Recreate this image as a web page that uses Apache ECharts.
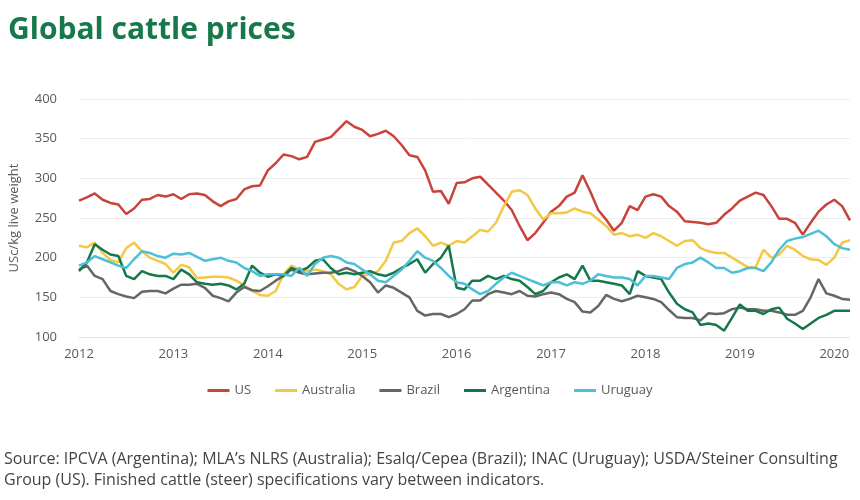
<!DOCTYPE html>
<html>
<head>
<meta charset="utf-8">
<script src="https://cdn.jsdelivr.net/npm/echarts@6/dist/echarts.min.js"></script>
<style>
  html, body { margin: 0; padding: 0; background: #fff; }
  #chart { width: 860px; height: 500px; }
</style>
</head>
<body>
<div id="chart"></div>
<script>
// monthly, Jan 2012 .. Mar 2020
const months = [];
for (let y = 2012; y <= 2020; y++) {
    for (let m = 1; m <= 12; m++) {
        if (y === 2020 && m > 3) break;
        months.push(y + '-' + (m < 10 ? '0' + m : m));
    }
}

const us = [272, 276, 281, 273, 269, 267, 255, 262, 273, 274, 279, 277,
    280, 274, 280, 281, 279, 271, 265, 271, 274, 286, 290, 291,
    310, 319, 330, 328, 324, 327, 346, 349, 352, 362, 372, 365,
    361, 353, 356, 360, 353, 342, 329, 327, 310, 283, 284, 268,
    294, 295, 300, 302, 292, 282, 272, 260, 240, 222, 231, 244,
    258, 265, 277, 282, 304, 283, 260, 248, 234, 244, 265, 260,
    277, 280, 277, 265, 258, 246, 245, 244, 242, 244, 254, 262,
    272, 277, 282, 279, 265, 249, 249, 244, 229, 244, 258, 267,
    273, 265, 247];
const australia = [215, 213, 219, 206, 197, 194, 212, 219, 208, 200, 196, 192,
    181, 191, 188, 174, 175, 176, 176, 175, 171, 165, 158, 153,
    152, 158, 179, 190, 185, 183, 185, 183, 179, 167, 160, 163,
    177, 179, 183, 196, 219, 221, 231, 237, 227, 215, 219, 215,
    221, 219, 227, 235, 233, 244, 265, 283, 285, 279, 262, 248,
    256, 256, 257, 262, 258, 256, 248, 240, 229, 231, 227, 229,
    225, 231, 227, 221, 215, 221, 222, 212, 208, 206, 206, 200,
    194, 188, 188, 210, 200, 204, 215, 210, 202, 198, 197, 191,
    200, 219, 222];
const brazil = [185, 190, 177, 173, 158, 154, 151, 149, 157, 158, 158, 155,
    161, 166, 166, 167, 162, 152, 149, 145, 156, 163, 159, 158,
    164, 171, 177, 185, 181, 179, 180, 181, 181, 183, 187, 183,
    177, 169, 156, 165, 162, 156, 150, 133, 127, 129, 129, 125,
    129, 135, 146, 146, 154, 158, 156, 154, 158, 152, 151, 154,
    156, 154, 148, 144, 132, 131, 139, 153, 148, 145, 148, 152,
    150, 148, 144, 134, 125, 124, 124, 121, 130, 129, 130, 135,
    137, 135, 135, 133, 133, 131, 128, 128, 133, 150, 173, 155,
    152, 148, 147];
const argentina = [183, 194, 217, 210, 204, 202, 177, 173, 183, 179, 177, 177,
    173, 185, 179, 169, 167, 166, 167, 165, 160, 167, 190, 181,
    176, 179, 177, 187, 183, 187, 196, 198, 187, 179, 181, 179,
    181, 183, 179, 177, 181, 187, 192, 198, 181, 192, 200, 215,
    162, 160, 171, 171, 177, 173, 177, 173, 171, 163, 154, 158,
    169, 175, 179, 173, 190, 171, 171, 169, 167, 165, 154, 183,
    177, 175, 173, 156, 142, 135, 131, 115, 117, 115, 108, 124,
    141, 133, 133, 129, 135, 137, 123, 117, 110, 117, 124, 128,
    133, 133, 133];
const uruguay = [190, 194, 202, 198, 194, 190, 187, 198, 208, 206, 202, 200,
    205, 204, 206, 201, 196, 198, 200, 196, 194, 187, 183, 177,
    179, 179, 179, 177, 187, 177, 192, 200, 202, 200, 194, 192,
    185, 179, 171, 169, 177, 185, 196, 208, 200, 196, 187, 177,
    169, 167, 160, 154, 158, 167, 175, 181, 177, 173, 169, 165,
    169, 169, 165, 169, 167, 171, 179, 177, 175, 175, 173, 165,
    177, 177, 175, 173, 187, 192, 194, 200, 194, 187, 187, 181,
    183, 187, 187, 183, 194, 210, 221, 224, 226, 230, 234, 227,
    217, 212, 210];

const names = ['US', 'Australia', 'Brazil', 'Argentina', 'Uruguay'];
const colors = ['#c8443a', '#f3c845', '#666666', '#15784a', '#4dbfd6'];
const values = [us, australia, brazil, argentina, uruguay];

const chart = echarts.init(document.getElementById('chart'));

const option = {
    animation: false,
    color: colors,
    textStyle: {fontFamily: 'Open Sans'},
    title: {
        text: 'Global cattle prices',
        left: 3,
        top: 10,
        textStyle: {fontSize: 30, fontWeight: 'bold', color: '#17794b', fontFamily: 'Open Sans'}
    },
    grid: {left: 77, right: 10, top: 99, bottom: 163},
    legend: {
        data: names,
        top: 379,
        left: 'center',
        icon: 'rect',
        itemWidth: 22,
        itemHeight: 3,
        itemGap: 24,
        textStyle: {fontSize: 13, color: '#595959'}
    },
    xAxis: {
        type: 'category',
        data: months,
        boundaryGap: false,
        axisLine: {show: true, lineStyle: {color: '#e6e6e6'}},
        axisTick: {show: false},
        axisLabel: {
            interval: function (i) { return i % 12 === 0; },
            formatter: function (v) { return v.slice(0, 4); },
            color: '#595959',
            fontSize: 13,
            margin: 11
        }
    },
    yAxis: {
        type: 'value',
        min: 100,
        max: 400,
        interval: 50,
        name: 'USc/kg live weight',
        nameLocation: 'middle',
        nameGap: 58,
        nameTextStyle: {fontSize: 13, color: '#595959'},
        axisLabel: {color: '#595959', fontSize: 13, margin: 22},
        splitLine: {lineStyle: {color: '#eeeeee'}}
    },
    series: names.map(function (n, k) {
        return {
            name: n,
            type: 'line',
            data: values[k],
            symbol: 'none',
            lineStyle: {width: 2.5, color: colors[k]}
        };
    }),
    graphic: [
        {
            type: 'text', left: 4, top: 451,
            style: {
                text: 'Source: IPCVA (Argentina); MLA\u2019s NLRS (Australia); Esalq/Cepea (Brazil); INAC (Uruguay); USDA/Steiner Consulting',
                fontSize: 16, fill: '#444444', fontFamily: 'Open Sans'
            }
        },
        {
            type: 'text', left: 4, top: 472,
            style: {
                text: 'Group (US). Finished cattle (steer) specifications vary between indicators.',
                fontSize: 16, fill: '#444444', fontFamily: 'Open Sans'
            }
        }
    ]
};

chart.setOption(option);
</script>
</body>
</html>
